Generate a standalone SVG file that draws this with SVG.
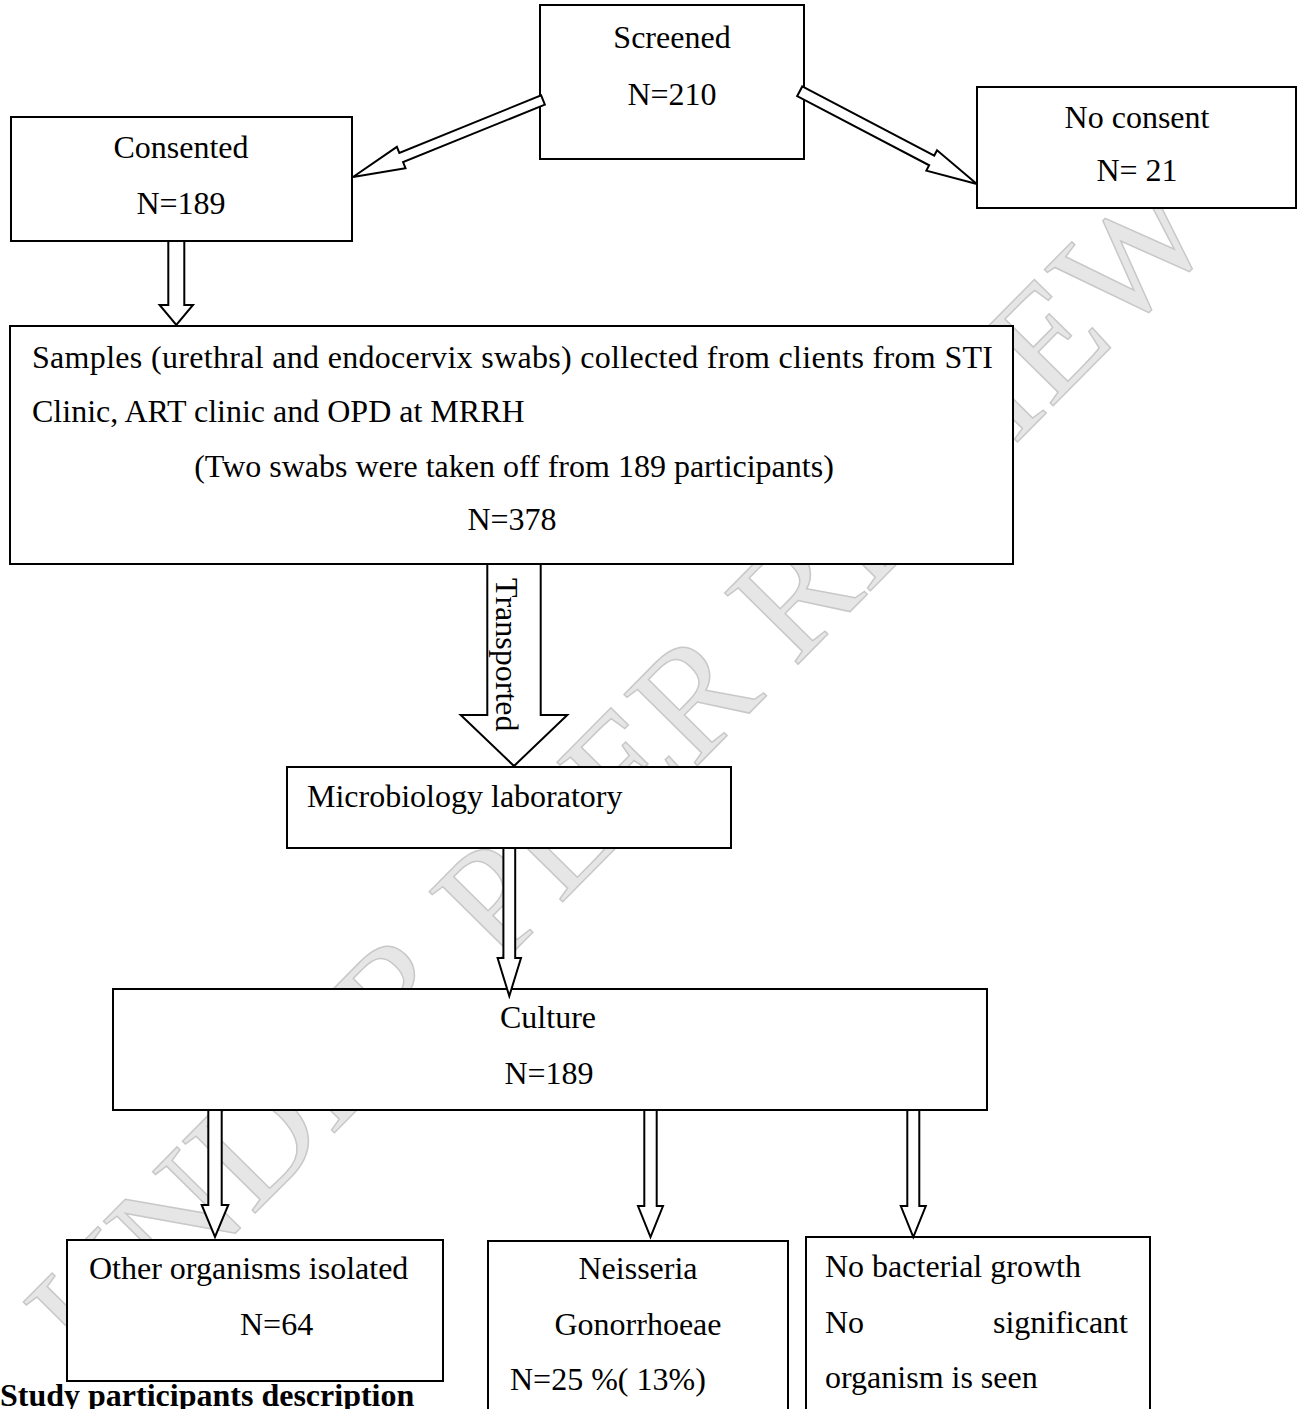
<svg xmlns="http://www.w3.org/2000/svg" width="1299" height="1409" viewBox="0 0 1299 1409">
<style>
  .box { fill: #ffffff; stroke: #000000; stroke-width: 2; }
  .arr { fill: #ffffff; stroke: #000000; stroke-width: 2; stroke-linejoin: miter; }
  .t { font-family: "Liberation Serif", "Times New Roman", serif; font-size: 32px; fill: #000000; }
  .c { text-anchor: middle; }
  .wm { font-family: "Liberation Serif", "Times New Roman", serif; font-size: 156px; fill: #e6e6e6; stroke: #c8c8c8; stroke-width: 1.5; }
</style>
<rect x="0" y="0" width="1299" height="1409" fill="#ffffff"/>
<g id="watermark">
  <text class="wm" transform="translate(93.7,1376.3) rotate(-45.3)">U</text>
  <text class="wm" transform="translate(172.9,1296.2) rotate(-45.3)">N</text>
  <text class="wm" transform="translate(252,1216.2) rotate(-45.3)">D</text>
  <text class="wm" transform="translate(331.2,1136.1) rotate(-45.3)">E</text>
  <text class="wm" transform="translate(398.2,1068.4) rotate(-45.3)">R</text>
  <text class="wm" transform="translate(498.7,966.7) rotate(-45.3)">P</text>
  <text class="wm" transform="translate(559.6,905.1) rotate(-45.3)">E</text>
  <text class="wm" transform="translate(626.6,837.3) rotate(-45.3)">E</text>
  <text class="wm" transform="translate(693.6,769.5) rotate(-45.3)">R</text>
  <text class="wm" transform="translate(794.2,667.9) rotate(-45.3)">R</text>
  <text class="wm" transform="translate(867.3,593.9) rotate(-45.3)">E</text>
  <text class="wm" transform="translate(934.3,526.1) rotate(-45.3)">V</text>
  <text class="wm" transform="translate(1013.4,446.1) rotate(-45.3)">I</text>
  <text class="wm" transform="translate(1050,409.1) rotate(-45.3)">E</text>
  <text class="wm" transform="translate(1117,341.4) rotate(-45.3)">W</text>
</g>
<g id="screened">
  <rect class="box" x="540" y="5" width="264" height="154"/>
  <text class="t c" x="672" y="48">Screened</text>
  <text class="t c" x="672" y="105">N=210</text>
</g>
<g id="consented">
  <rect class="box" x="11" y="117" width="341" height="124"/>
  <text class="t c" x="181" y="158">Consented</text>
  <text class="t c" x="181" y="214">N=189</text>
</g>
<g id="noconsent">
  <rect class="box" x="977" y="87" width="319" height="121"/>
  <text class="t c" x="1137" y="128">No consent</text>
  <text class="t c" x="1137" y="181">N= 21</text>
</g>
<g id="samples">
  <rect class="box" x="10" y="326" width="1003" height="238"/>
  <text class="t" x="32" y="368" textLength="961" lengthAdjust="spacing">Samples (urethral and endocervix swabs) collected from clients from STI</text>
  <text class="t" x="32" y="422">Clinic, ART clinic and OPD at MRRH</text>
  <text class="t c" x="514" y="477">(Two swabs were taken off from 189 participants)</text>
  <text class="t c" x="512" y="530">N=378</text>
</g>
<g id="micro">
  <rect class="box" x="287" y="767" width="444" height="81"/>
  <text class="t" x="307" y="807">Microbiology laboratory</text>
</g>
<g id="culture">
  <rect class="box" x="113" y="989" width="874" height="121"/>
  <text class="t c" x="548" y="1028">Culture</text>
  <text class="t c" x="549" y="1084">N=189</text>
</g>
<g id="other">
  <rect class="box" x="67" y="1240" width="376" height="141"/>
  <text class="t" x="89" y="1279">Other organisms isolated</text>
  <text class="t" x="240" y="1335">N=64</text>
</g>
<g id="neisseria">
  <rect class="box" x="488" y="1241" width="300" height="200"/>
  <text class="t c" x="638" y="1279">Neisseria</text>
  <text class="t c" x="638" y="1335">Gonorrhoeae</text>
  <text class="t" x="510" y="1390">N=25 %( 13%)</text>
</g>
<g id="nogrowth">
  <rect class="box" x="806" y="1237" width="344" height="200"/>
  <text class="t" x="825" y="1277">No bacterial growth</text>
  <text class="t" x="825" y="1333">No</text>
  <text class="t" x="1128" y="1333" text-anchor="end">significant</text>
  <text class="t" x="825" y="1388">organism is seen</text>
</g>
<g id="connectors">
  <polygon class="arr" transform="translate(543,100) rotate(157.94)" points="0,-5 153,-5 153,-11.5 205,0 153,11.5 153,5 0,5"/>
  <polygon class="arr" transform="translate(799.7,91.3) rotate(27.64)" points="0,-5.5 149,-5.5 149,-11.5 200,0 149,11.5 149,5.5 0,5.5"/>
  <polygon class="arr" points="168.3,241 168.3,305 159.6,305 176.3,325 193,305 184.3,305 184.3,241"/>
  <polygon class="arr" points="487.3,564 487.3,715 460.7,715 514,766 567.3,715 540.7,715 540.7,564"/>
  <text class="t" transform="translate(496,578) rotate(90)">Transported</text>
  <polygon class="arr" points="503.4,848 503.4,958 497.6,958 509.3,996 521,958 515.2,958 515.2,848"/>
  <polygon class="arr" points="208.3,1110 208.3,1205 201.7,1205 215,1237 228.3,1205 221.7,1205 221.7,1110"/>
  <polygon class="arr" points="644.3,1110 644.3,1206 638,1206 650.5,1237 663,1206 656.7,1206 656.7,1110"/>
  <polygon class="arr" points="907.3,1110 907.3,1206 900.8,1206 913.3,1237 925.8,1206 919.3,1206 919.3,1110"/>
</g>
<g id="caption">
  <text class="t" x="0" y="1406" font-weight="bold">Study participants description</text>
</g>
</svg>
